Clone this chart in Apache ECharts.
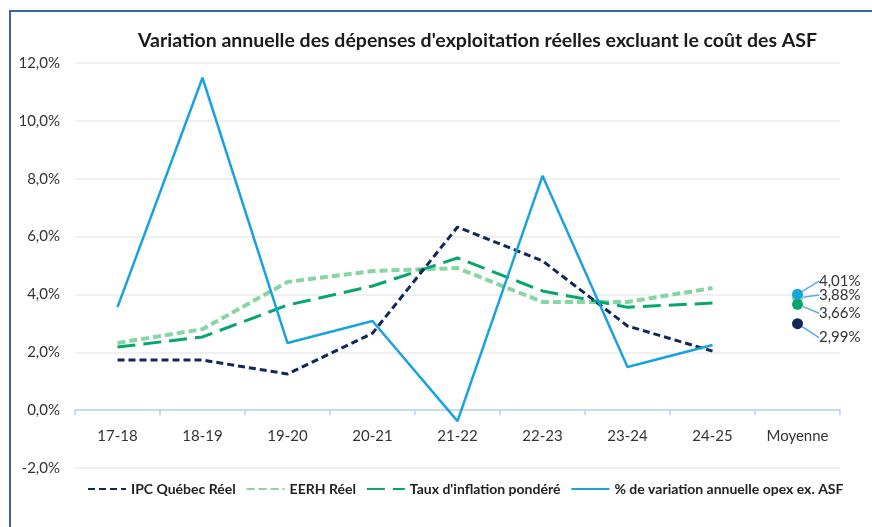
<!DOCTYPE html>
<html>
<head>
<meta charset="utf-8">
<script src="https://cdn.jsdelivr.net/npm/echarts@6/dist/echarts.min.js"></script>
<style>
  html, body { margin: 0; padding: 0; background: #fff; }
  #chart { width: 872px; height: 527px; }
</style>
</head>
<body>
<div id="chart"></div>
<script>
const categories = ['17-18', '18-19', '19-20', '20-21', '21-22', '22-23', '23-24', '24-25', 'Moyenne'];

const ipcQuebec = [1.73, 1.73, 1.25, 2.66, 6.33, 5.16, 2.91, 2.04, null];
const eerh = [2.32, 2.80, 4.43, 4.81, 4.91, 3.74, 3.74, 4.22, null];
const tauxInflation = [2.18, 2.53, 3.63, 4.29, 5.26, 4.12, 3.56, 3.70, null];
const opexVariation = [3.56, 11.49, 2.32, 3.08, -0.38, 8.10, 1.49, 2.25, null];

const moyennes = { ipc: 2.99, eerh: 3.88, taux: 3.66, opex: 4.01 };

const seriesNames = [
  'IPC Québec Réel',
  'EERH Réel',
  "Taux d'inflation pondéré",
  '% de variation annuelle opex ex. ASF'
];

const fontFamily = 'Lato, "Open Sans", sans-serif';
const pct = (v) => v.toFixed(1).replace('.', ',') + '%';

function averagePoint(value) {
  return categories.map((c, i) => (i === categories.length - 1 ? value : null));
}

function averageSeries(name, value, color, dy, z) {
  return {
    name: name,
    type: 'scatter',
    data: averagePoint(value),
    symbolSize: 11,
    z: z,
    itemStyle: { color: color, opacity: 1 },
    label: {
      show: true,
      position: 'right',
      distance: 16,
      color: '#333',
      fontSize: 15,
      fontFamily: fontFamily,
      formatter: (p) => p.value.toFixed(2).replace('.', ',') + '%'
    },
    labelLayout: { dy: dy },
    labelLine: { show: true, lineStyle: { color: '#5aa9f2', width: 1.5 } }
  };
}

const chart = echarts.init(document.getElementById('chart'));

chart.setOption({
  animation: false,
  textStyle: { fontFamily: fontFamily },
  graphic: [
    {
      type: 'rect',
      shape: { x: 10, y: 11, width: 900, height: 600 },
      style: { fill: 'none', stroke: '#3566a6', lineWidth: 2 }
    }
  ],
  title: {
    text: "Variation annuelle des dépenses d'exploitation réelles excluant le coût des ASF",
    left: 133,
    top: 26,
    textStyle: { fontSize: 19.5, fontWeight: 'bold', color: '#1a1a1a', fontFamily: fontFamily }
  },
  legend: {
    data: seriesNames,
    bottom: 26,
    left: 82,
    itemWidth: 38,
    itemHeight: 10,
    itemGap: 10,
    itemStyle: { opacity: 0 },
    textStyle: { fontSize: 14, fontWeight: 'bold', color: '#222', fontFamily: fontFamily }
  },
  grid: { left: 75, right: 32, top: 63, bottom: 59 },
  xAxis: {
    type: 'category',
    data: categories,
    boundaryGap: true,
    axisLine: { onZero: true, lineStyle: { color: '#b7d4f3', width: 1.5 } },
    axisTick: { show: true, length: 5, lineStyle: { color: '#b7d4f3', width: 1.5 } },
    axisLabel: { color: '#333', fontSize: 15, margin: -39, fontFamily: fontFamily }
  },
  yAxis: {
    type: 'value',
    min: -2,
    max: 12,
    interval: 2,
    axisLine: { show: false },
    axisTick: { show: false },
    axisLabel: { color: '#333', fontSize: 15, margin: 15, formatter: pct, fontFamily: fontFamily },
    splitLine: { lineStyle: { color: '#ebebeb', width: 1.5 } }
  },
  series: [
    {
      name: seriesNames[0],
      type: 'line',
      data: ipcQuebec,
      symbol: 'none',
      z: 4,
      lineStyle: { color: '#10295a', width: 3, type: [7, 4] },
      itemStyle: { color: '#10295a' }
    },
    {
      name: seriesNames[1],
      type: 'line',
      data: eerh,
      symbol: 'none',
      z: 2,
      lineStyle: { color: '#86d5a2', width: 4, type: [8, 4] },
      itemStyle: { color: '#86d5a2' }
    },
    {
      name: seriesNames[2],
      type: 'line',
      data: tauxInflation,
      symbol: 'none',
      z: 3,
      lineStyle: { color: '#06a66c', width: 3, type: [18, 8] },
      itemStyle: { color: '#06a66c' }
    },
    {
      name: seriesNames[3],
      type: 'line',
      data: opexVariation,
      symbol: 'none',
      z: 5,
      lineStyle: { color: '#18a3e0', width: 2.5, type: 'solid' },
      itemStyle: { color: '#18a3e0' }
    },
    averageSeries('Moyenne IPC', moyennes.ipc, '#10295a', 14, 6),
    averageSeries('Moyenne EERH', moyennes.eerh, '#86d5a2', -3, 6),
    averageSeries('Moyenne Taux', moyennes.taux, '#06a66c', 9, 7),
    averageSeries('Moyenne opex', moyennes.opex, '#18a3e0', -13, 8)
  ]
});

window.addEventListener('resize', () => chart.resize());
</script>
</body>
</html>
